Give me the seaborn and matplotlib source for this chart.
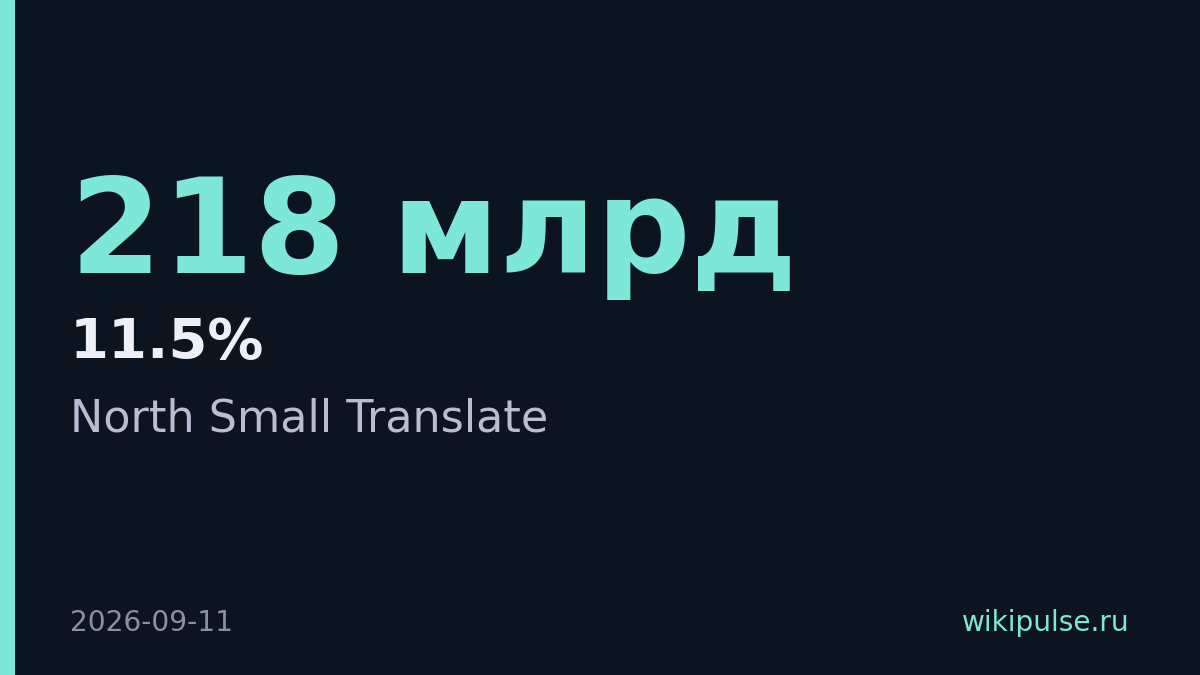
import matplotlib
matplotlib.use("Agg")
import matplotlib.pyplot as plt
import seaborn as sns
from matplotlib.patches import Rectangle

# card content
headline = "218 млрд"
change = "11.5%"
subtitle = "North Small Translate"
date_label = "2026-09-11"
site_label = "wikipulse.ru"

bg = "#0c1420"
accent = "#7ee8d8"

sns.set_theme(style="dark")
plt.rcParams['font.family'] = ['DejaVu Sans']

W, H = 1200, 675
fig = plt.figure(figsize=(W / 100, H / 100), dpi=100, facecolor=bg)
ax = fig.add_axes([0, 0, 1, 1])
ax.set_facecolor(bg)
ax.set_xlim(0, W)
ax.set_ylim(H, 0)
ax.axis("off")

# left accent strip
ax.add_patch(Rectangle((0, 0), 15, H, color=accent, lw=0))

ax.text(70, 273, headline, color=accent, fontsize=95, fontweight="bold", va="baseline", ha="left")
ax.text(70, 358, change, color="#eef0f8", fontsize=40.3, fontweight="bold", va="baseline", ha="left")
ax.text(70, 431, subtitle, color="#b8bdd0", fontsize=32, va="baseline", ha="left")
ax.text(70, 631, date_label, color="#8a90a3", fontsize=20.2, va="baseline", ha="left")
ax.text(1129, 631, site_label, color=accent, fontsize=20.2, va="baseline", ha="right")

fig.savefig("out.png", dpi=100, facecolor=bg)
